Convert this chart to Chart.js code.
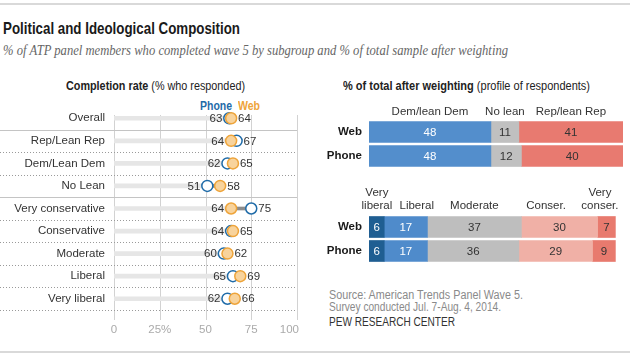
<!DOCTYPE html>
<html><head><meta charset="utf-8">
<script src="https://cdn.jsdelivr.net/npm/chart.js@4.4.1/dist/chart.umd.min.js"></script>
<style>
html,body{margin:0;padding:0;background:#fff;}
#wrap{position:relative;width:630px;height:357px;overflow:hidden;font-family:"Liberation Sans",Arial,sans-serif;background:#fff;}
canvas{position:absolute;left:0;top:0;}
.t{position:absolute;white-space:nowrap;transform-origin:0 50%;line-height:1;}
.rule{position:absolute;left:0;width:630px;height:2px;background:#d9d9d9;}
</style></head><body>
<div id="wrap">
<div class="rule" style="top:3px"></div>
<div class="rule" style="top:351px"></div>
<div class="t" data-w="237" style="left:3px;top:20px;font-size:17px;font-weight:bold;color:#1a1a1a">Political and Ideological Composition</div>
<div class="t" data-w="505" style="left:3px;top:43px;font-size:15px;font-style:italic;font-family:'Liberation Serif',serif;color:#666">% of ATP panel members who completed wave 5 by subgroup and % of total sample after weighting</div>
<div class="t" data-w="179" style="left:66px;top:80px;font-size:12px;color:#222"><b>Completion rate</b> (% who responded)</div>
<div class="t" data-w="32" style="left:200px;top:100px;font-size:12px;font-weight:bold;color:#1f6ba8">Phone</div>
<div class="t" data-w="22" style="left:238px;top:100px;font-size:12px;font-weight:bold;color:#eea43a">Web</div>
<div class="t" data-w="247" style="left:343px;top:80px;font-size:12px;color:#222"><b>% of total after weighting</b> (profile of respondents)</div>
<div class="t" data-w="194" style="left:329px;top:289px;font-size:12px;color:#8a8a8a">Source: American Trends Panel Wave 5.</div>
<div class="t" data-w="172" style="left:329px;top:301px;font-size:12px;color:#8a8a8a">Survey conducted Jul. 7-Aug. 4, 2014.</div>
<div class="t" data-w="126" style="left:329px;top:316px;font-size:12px;color:#333">PEW RESEARCH CENTER</div>
<canvas id="c1" width="630" height="357"></canvas>
<canvas id="c2" width="630" height="357"></canvas>
<canvas id="c3" width="630" height="357"></canvas>
</div>
<script>
// ---- data ----
const categories = ['Overall','Rep/Lean Rep','Dem/Lean Dem','No Lean','Very conservative','Conservative','Moderate','Liberal','Very liberal'];
const phoneRate = [63,67,62,51,75,64,60,65,62];
const webRate   = [64,64,65,58,64,65,62,69,66];
const rateTicks = [0,25,50,75,100];
const rateTickLabels = ['0','25%','50','75','100'];

const modes = ['Web','Phone'];
const partyGroups = ['Dem/lean Dem','No lean','Rep/lean Rep'];
const partyWeb   = [48,11,41];
const partyPhone = [48,12,40];

const ideoGroups = ['Very liberal','Liberal','Moderate','Conser.','Very conser.'];
const ideoWeb   = [6,17,37,30,7];
const ideoPhone = [6,17,36,29,9];

// ---- styles / layout ----
const FONT = '"Liberation Sans", Arial, sans-serif';
Chart.defaults.font.family = FONT;
const partyColors = ['#538ecc','#c0c0c0','#e87a70'];
const partyText = ['#fff','#333','#333'];
const ideoColors = ['#1f5e92','#4f8bcb','#bebebe','#f0b0a6','#e87a6e'];
const ideoText = ['#fff','#fff','#333','#333','#333'];
const ideoHeaderLines = [['Very','liberal'],['Liberal'],['Moderate'],['Conser.'],['Very','conser.']];
const ideoHeaderAt = [3.1,18.8,41.5,69.7,90.9];

const lo = categories.map((c,i)=>Math.min(phoneRate[i],webRate[i]));
const hi = categories.map((c,i)=>Math.max(phoneRate[i],webRate[i]));

const common = {responsive:false, animation:false, events:[], plugins:{legend:{display:false}, tooltip:{enabled:false}}};

// ---- left dot plot ----
const dotDeco = {
  id:'dotDeco',
  beforeDatasetsDraw(chart){
    const {ctx, scales:{x,y}} = chart;
    ctx.save();
    ctx.strokeStyle='#d2d2d2'; ctx.lineWidth=1;
    rateTicks.forEach(t=>{const px=Math.round(x.getPixelForValue(t))+0.5;
      ctx.beginPath(); ctx.moveTo(px,y.top+8); ctx.lineTo(px,y.bottom+10); ctx.stroke();});
    const n = categories.length;
    for(let i=0;i<n;i++){
      const cy = y.getPixelForValue(i);
      const step = (i<n-1)? y.getPixelForValue(i+1)-cy : cy-y.getPixelForValue(i-1);
      const yy = Math.round(cy+step/2)+0.5;
      ctx.beginPath();
      if(i===0||i===3){ctx.setLineDash([]); ctx.strokeStyle='#c4c4c4';}
      else {ctx.setLineDash([1,2]); ctx.strokeStyle='#9a9a9a';}
      ctx.moveTo(0,yy); ctx.lineTo(x.right,yy); ctx.stroke();
    }
    ctx.setLineDash([]);
    ctx.fillStyle='#aaa'; ctx.font='11.5px '+FONT; ctx.textBaseline='middle';
    rateTicks.forEach((t,k)=>{
      const px=x.getPixelForValue(t);
      if(k===rateTicks.length-1){ctx.textAlign='right'; ctx.fillText(rateTickLabels[k],px+2,y.bottom+20);}
      else {ctx.textAlign='center'; ctx.fillText(rateTickLabels[k],px,y.bottom+20);}
    });
    ctx.restore();
  },
  afterDatasetsDraw(chart){
    const {ctx, scales:{x,y}} = chart;
    ctx.save();
    ctx.fillStyle='#333'; ctx.font='11.5px '+FONT; ctx.textBaseline='middle';
    categories.forEach((c,i)=>{
      const cy=y.getPixelForValue(i)+0.5;
      ctx.textAlign='right'; ctx.fillText(String(lo[i]), x.getPixelForValue(lo[i])-7, cy);
      ctx.textAlign='left'; ctx.fillText(String(hi[i]), x.getPixelForValue(hi[i])+7, cy);
    });
    ctx.restore();
  }
};
new Chart(document.getElementById('c1'), {
  type:'bar',
  data:{labels:categories, datasets:[
    {label:'Web', type:'line', data:webRate, showLine:false, pointRadius:5.5, pointBorderWidth:1.5,
     pointBackgroundColor:'#f8d39c', pointBorderColor:'#eea43a', order:0},
    {label:'Phone', type:'line', data:phoneRate, showLine:false, pointRadius:5.5, pointBorderWidth:1.5,
     pointBackgroundColor:'#ffffff', pointBorderColor:'#1f6ba8', order:1},
    {label:'gap', data:lo.map((v,i)=>[v,hi[i]]), backgroundColor:'#8c8c8c', barThickness:3, grouped:false, order:2},
    {label:'base', data:lo.map(v=>[0,v]), backgroundColor:'#e6e6e6', barThickness:4, grouped:false, order:3}
  ]},
  options:Object.assign({}, common, {
    indexAxis:'y',
    layout:{padding:{left:0,right:333,top:107,bottom:47}},
    scales:{
      x:{type:'linear', min:0, max:100, display:false},
      y:{type:'category', grid:{display:false, drawTicks:false}, border:{display:false},
         ticks:{color:'#333', font:{size:11.5}, padding:9, autoSkip:false},
         afterFit(s){s.width=114;}}
    }
  }),
  plugins:[dotDeco]
});

// ---- stacked bars ----
function segLabels(textColors, headerFn){
  return {
    id:'seg',
    afterDatasetsDraw(chart){
      const {ctx} = chart;
      ctx.save();
      ctx.font='11.5px '+FONT; ctx.textAlign='center'; ctx.textBaseline='middle';
      chart.data.datasets.forEach((ds,k)=>{
        chart.getDatasetMeta(k).data.forEach((el,j)=>{
          ctx.fillStyle=textColors[k];
          ctx.fillText(String(ds.data[j]), (el.x+el.base)/2, el.y+0.5);
        });
      });
      ctx.fillStyle='#333';
      headerFn(chart, ctx);
      ctx.restore();
    }
  };
}
function stackOpts(top,bottom){
  return Object.assign({}, common, {
    indexAxis:'y',
    layout:{padding:{left:0,right:7,top:top,bottom:bottom}},
    scales:{
      x:{stacked:true, min:0, max:100, display:false},
      y:{stacked:true, grid:{display:false, drawTicks:false}, border:{display:false},
         ticks:{color:'#1a1a1a', font:{size:11.5, weight:'bold'}, padding:7},
         afterFit(s){s.width=369;}}
    }
  });
}
new Chart(document.getElementById('c2'), {
  type:'bar',
  data:{labels:modes, datasets:partyGroups.map((g,k)=>({label:g, data:[partyWeb[k],partyPhone[k]],
    backgroundColor:partyColors[k], barThickness:21, borderWidth:0}))},
  options:stackOpts(120,189),
  plugins:[segLabels(partyText,(chart,ctx)=>{
    chart.data.datasets.forEach((ds,k)=>{
      const el=chart.getDatasetMeta(k).data[0];
      ctx.fillText(ds.label,(el.x+el.base)/2, chart.chartArea.top-8);
    });
  })]
});
new Chart(document.getElementById('c3'), {
  type:'bar',
  data:{labels:modes, datasets:ideoGroups.map((g,k)=>({label:g, data:[ideoWeb[k],ideoPhone[k]],
    backgroundColor:ideoColors[k], barThickness:21, borderWidth:0}))},
  options:stackOpts(215,94),
  plugins:[segLabels(ideoText,(chart,ctx)=>{
    const x=chart.scales.x, top=chart.chartArea.top;
    ideoHeaderLines.forEach((lines,k)=>{
      const px=x.getPixelForValue(ideoHeaderAt[k]);
      lines.forEach((ln,m)=>{ ctx.fillText(ln, px, top-9-(lines.length-1-m)*13); });
    });
  })]
});

// fit HTML texts to measured widths
document.querySelectorAll('.t[data-w]').forEach(el=>{
  const w=el.getBoundingClientRect().width;
  if(w>0) el.style.transform='scaleX('+(+el.dataset.w/w)+')';
});
</script>
</body></html>
